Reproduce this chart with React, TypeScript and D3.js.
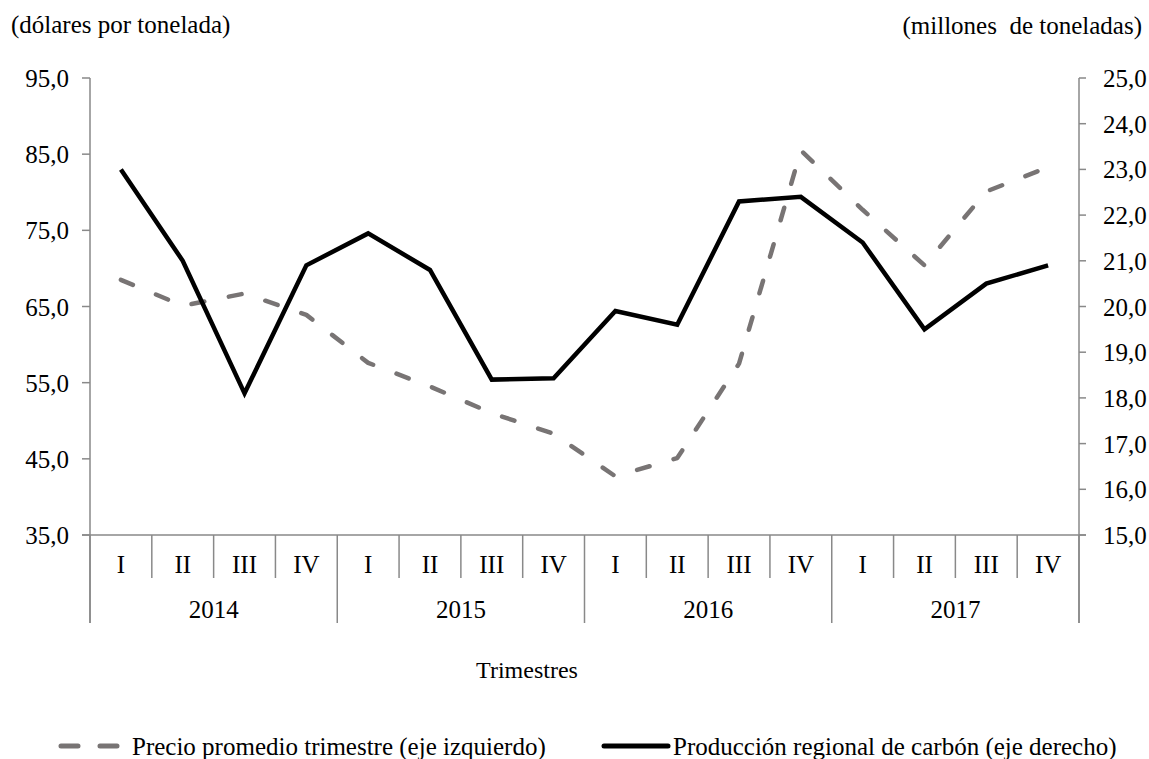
import React from "react";
import * as d3 from "d3";

const years = ["2014", "2015", "2016", "2017"];
const quarters = ["I", "II", "III", "IV"];
const categories = years.flatMap((y) => quarters.map((q) => `${q}-${y}`));

const precio = [68.5, 65.1, 66.7, 63.9, 57.6, 54.5, 51.0, 48.3, 42.7, 45.1, 57.5, 85.5, 77.7, 70.4, 80.1, 83.3];
const produccion = [23.0, 21.0, 18.1, 20.9, 21.6, 20.8, 18.4, 18.43, 19.9, 19.6, 22.3, 22.4, 21.4, 19.5, 20.5, 20.9];

const leftTicks = [35, 45, 55, 65, 75, 85, 95];
const rightTicks = [15, 16, 17, 18, 19, 20, 21, 22, 23, 24, 25];

const W = 1149;
const H = 759;
const FONT = "'Liberation Serif', 'Times New Roman', serif";
const AXIS = "#898989";
const GRAY = "#787474";
const FS = 25;

export default function App() {
  const x0 = 90;
  const x1 = 1079;
  const yTop = 78;
  const yBot = 535;
  const x = d3.scaleBand<string>().domain(categories).range([x0, x1]);
  const yL = d3.scaleLinear().domain([35, 95]).range([yBot, yTop]);
  const yR = d3.scaleLinear().domain([15, 25]).range([yBot, yTop]);
  const cx = (i: number) => (x(categories[i]) as number) + x.bandwidth() / 2;

  const linePrecio = d3.line<number>().x((_, i) => cx(i)).y((d) => yL(d))(precio) as string;
  const lineProd = d3.line<number>().x((_, i) => cx(i)).y((d) => yR(d))(produccion) as string;

  const fmt = (v: number) => v.toFixed(1).replace(".", ",");
  const bounds = d3.range(categories.length + 1).map((i) =>
    i < categories.length ? (x(categories[i]) as number) : x1
  );

  return (
    <svg
      width={W}
      height={H}
      style={{ position: "absolute", left: 0, top: 0, background: "#fff" }}
      fontFamily={FONT}
    >
      <rect width={W} height={H} fill="#fff" />
      {/* axis titles */}
      <text x={11} y={33} fontSize={FS} fill="#000">(dólares por tonelada)</text>
      <text x={1142} y={34} fontSize={FS} fill="#000" textAnchor="end" style={{ whiteSpace: "pre" }}>
        (millones  de toneladas)
      </text>

      {/* left axis */}
      <line x1={x0} x2={x0} y1={yTop} y2={623} stroke={AXIS} strokeWidth={1.5} />
      {leftTicks.map((t) => (
        <g key={"l" + t}>
          <line x1={x0 - 8} x2={x0} y1={yL(t)} y2={yL(t)} stroke={AXIS} strokeWidth={1.5} />
          <text x={69} y={yL(t) + 9} fontSize={FS} textAnchor="end" fill="#000">
            {fmt(t)}
          </text>
        </g>
      ))}

      {/* right axis */}
      <line x1={x1} x2={x1} y1={yTop} y2={623} stroke={AXIS} strokeWidth={1.5} />
      {rightTicks.map((t) => (
        <g key={"r" + t}>
          <line x1={x1} x2={x1 + 7} y1={yR(t)} y2={yR(t)} stroke={AXIS} strokeWidth={1.5} />
          <text x={1103} y={yR(t) + 9} fontSize={FS} textAnchor="start" fill="#000">
            {fmt(t)}
          </text>
        </g>
      ))}

      {/* category axis */}
      <line x1={x0 - 8} x2={x1 + 7} y1={yBot} y2={yBot} stroke={AXIS} strokeWidth={1.5} />
      {bounds.map((bx, i) => (
        <line
          key={"b" + i}
          x1={bx}
          x2={bx}
          y1={yBot}
          y2={i % 4 === 0 ? 623 : 578}
          stroke={AXIS}
          strokeWidth={1.5}
        />
      ))}
      {categories.map((c, i) => (
        <text key={c} x={cx(i)} y={573} fontSize={FS} textAnchor="middle" fill="#000">
          {quarters[i % 4]}
        </text>
      ))}
      {years.map((yr, k) => (
        <text
          key={yr}
          x={(bounds[k * 4] + bounds[k * 4 + 4]) / 2}
          y={618}
          fontSize={FS}
          textAnchor="middle"
          fill="#000"
        >
          {yr}
        </text>
      ))}
      <text x={527} y={678} fontSize={24} textAnchor="middle" fill="#000">
        Trimestres
      </text>

      {/* series */}
      <path
        d={linePrecio}
        fill="none"
        stroke={GRAY}
        strokeWidth={4.5}
        strokeDasharray="13 25"
        strokeLinecap="round"
        strokeLinejoin="round"
      />
      <path d={lineProd} fill="none" stroke="#000" strokeWidth={4.5} strokeLinejoin="miter" />

      {/* legend */}
      <line
        x1={61}
        x2={118}
        y1={746}
        y2={746}
        stroke={GRAY}
        strokeWidth={5}
        strokeDasharray="17 22"
        strokeLinecap="round"
      />
      <text x={132} y={755} fontSize={FS} fill="#000">
        Precio promedio trimestre (eje izquierdo)
      </text>
      <line x1={604} x2={668} y1={746} y2={746} stroke="#000" strokeWidth={5} strokeLinecap="round" />
      <text x={673} y={755} fontSize={FS} fill="#000">
        Producción regional de carbón (eje derecho)
      </text>
    </svg>
  );
}
